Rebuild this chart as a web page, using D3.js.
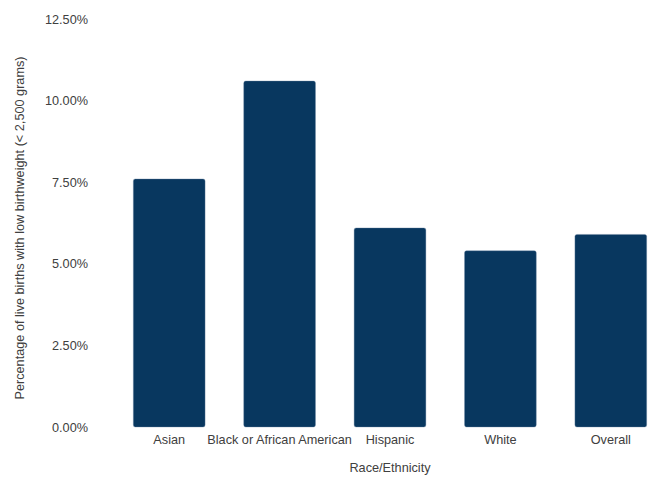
<!DOCTYPE html>
<html><head><meta charset="utf-8">
<script src="https://cdn.jsdelivr.net/npm/d3@7"></script>
<style>body{margin:0;background:#fff;} text{font-family:"Liberation Sans",Arial,sans-serif;}</style>
</head><body><svg id="c" width="649" height="480"></svg>
<script>
const categories = ["Asian","Black or African American","Hispanic","White","Overall"];
const values = [7.6, 10.6, 6.1, 5.4, 5.9];
const yTicks = [0, 2.5, 5, 7.5, 10, 12.5];
const xTitle = "Race/Ethnicity";
const yTitle = "Percentage of live births with low birthweight (< 2,500 grams)";

const FS = 12.7;
const svg = d3.select("#c");
const x = d3.scaleBand().domain(categories).range([114, 666]).paddingInner(0.35).paddingOuter(0.175);
const y = d3.scaleLinear().domain([0, 12.5]).range([427, 19]);

svg.append("g").selectAll("rect").data(values).join("rect")
  .attr("x", (d,i) => x(categories[i]))
  .attr("y", d => y(d))
  .attr("width", x.bandwidth())
  .attr("height", d => y(0) - y(d))
  .attr("rx", 2)
  .attr("fill", "#08375f")
  .attr("stroke", "#6f8aa6").attr("stroke-width", 0.6).attr("stroke-opacity", 0.6);

const yAxis = svg.append("g").attr("transform", "translate(96,0)")
  .call(d3.axisLeft(y).tickValues(yTicks).tickFormat(d => d.toFixed(2) + "%").tickSize(0).tickPadding(8));
yAxis.select(".domain").remove();
yAxis.selectAll("text").attr("font-size", FS).attr("fill", "#404040").attr("font-family", "Liberation Sans, Arial, sans-serif");

const xAxis = svg.append("g").attr("transform", "translate(0,427)")
  .call(d3.axisBottom(x).tickSize(0).tickPadding(8));
xAxis.select(".domain").remove();
xAxis.selectAll("text").attr("font-size", FS).attr("fill", "#404040").attr("font-family", "Liberation Sans, Arial, sans-serif");

svg.append("text").attr("x", 390).attr("y", 472).attr("text-anchor", "middle")
  .attr("font-size", FS).attr("fill", "#404040").text(xTitle);
svg.append("text").attr("transform", "translate(24,228) rotate(-90)").attr("text-anchor", "middle")
  .attr("font-size", FS).attr("fill", "#404040").text(yTitle);
</script></body></html>
